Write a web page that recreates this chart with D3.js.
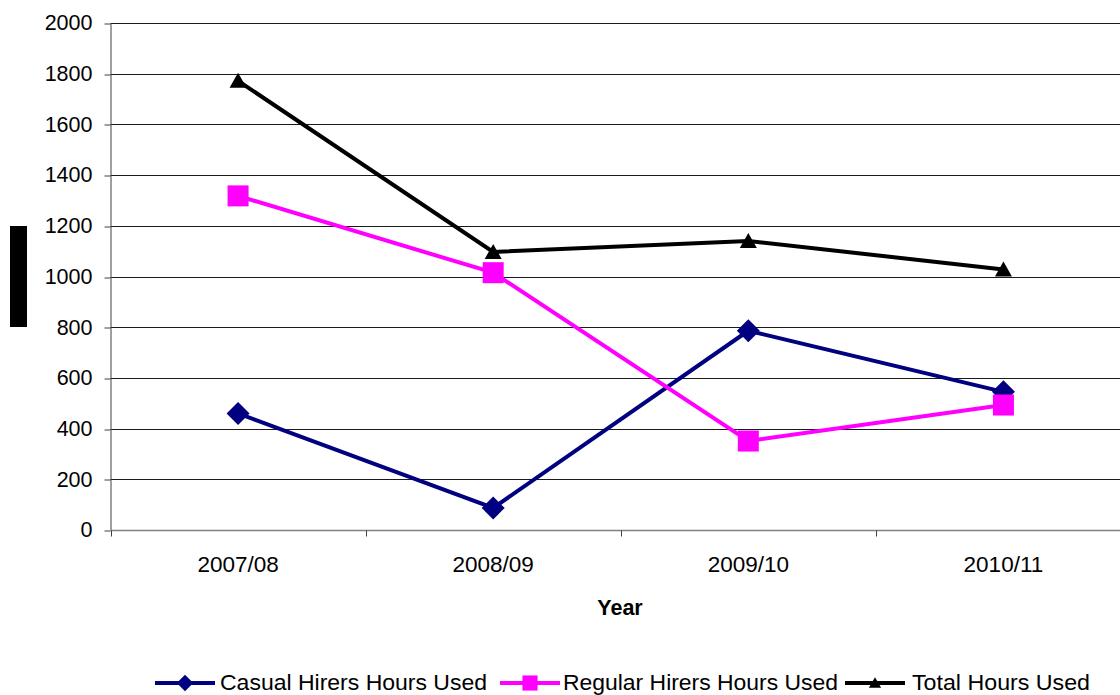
<!DOCTYPE html>
<html>
<head>
<meta charset="utf-8">
<script src="https://cdn.jsdelivr.net/npm/d3@7"></script>
<style>
  html, body { margin: 0; padding: 0; background: #fff; }
  svg { display: block; }
  svg text { font-family: "Liberation Sans", Arial, sans-serif; }
</style>
</head>
<body>
<svg id="chart" width="1120" height="695"></svg>
<script>
// Hours used per financial year
const years = ["2007/08", "2008/09", "2009/10", "2010/11"];
const casualHours = [460, 87, 786, 545];
const regularHours = [1318, 1015, 351, 493];
const totalHours = [1772, 1097, 1140, 1028];
const yTicks = [0, 200, 400, 600, 800, 1000, 1200, 1400, 1600, 1800, 2000];

const seriesNames = ["Casual Hirers Hours Used", "Regular Hirers Hours Used", "Total Hours Used"];
const seriesColors = ["#000080", "#ff00ff", "#000000"];
const seriesShapes = ["diamond", "square", "triangle"];
const seriesValues = [casualHours, regularHours, totalHours];

const FONT = "Liberation Sans, Arial, sans-serif";
const svg = d3.select("#chart");
const plot = { left: 110.5, right: 1131, top: 23, bottom: 530 };

const x = d3.scaleBand().domain(years).range([plot.left, plot.right]);
const y = d3.scaleLinear().domain([0, 2000]).range([plot.bottom, plot.top]);

// horizontal gridlines
svg.append("g")
  .selectAll("line")
  .data(yTicks.filter(d => d > 0))
  .join("line")
  .attr("x1", plot.left).attr("x2", plot.right)
  .attr("y1", d => Math.round(y(d)) + 0.5).attr("y2", d => Math.round(y(d)) + 0.5)
  .attr("stroke", "#1a1a1a").attr("stroke-width", 1);

// y axis
const yAxis = svg.append("g")
  .attr("transform", `translate(${plot.left},0)`)
  .call(d3.axisLeft(y).tickValues(yTicks).tickFormat(d3.format("d"))
    .tickSize(6).tickPadding(12).tickSizeOuter(0));
yAxis.attr("font-family", FONT);
yAxis.select(".domain").attr("stroke", "#404040");
yAxis.selectAll(".tick line").attr("stroke", "#404040")
  .attr("transform", d => `translate(0,${Math.round(y(d)) + 0.5 - y(d)})`);
yAxis.selectAll(".tick text").attr("font-size", 21.5).attr("fill", "#000");

// x axis with ticks at category boundaries
const xAxisG = svg.append("g").attr("transform", `translate(0,${plot.bottom + 0.5})`);
xAxisG.append("line")
  .attr("x1", plot.left).attr("x2", plot.right)
  .attr("stroke", "#808080").attr("stroke-width", 1.5);
xAxisG.selectAll("line.tk")
  .data(years)
  .join("line").attr("class", "tk")
  .attr("x1", d => Math.round(x(d)) + 0.5).attr("x2", d => Math.round(x(d)) + 0.5)
  .attr("y1", 0).attr("y2", 6)
  .attr("stroke", "#404040");
xAxisG.selectAll("text")
  .data(years)
  .join("text")
  .attr("x", d => x(d) + x.bandwidth() / 2)
  .attr("y", 41)
  .attr("text-anchor", "middle")
  .attr("font-family", FONT)
  .attr("font-size", 22.5)
  .text(d => d);

// x axis title
svg.append("text")
  .attr("x", 620).attr("y", 615)
  .attr("text-anchor", "middle")
  .attr("font-family", FONT)
  .attr("font-size", 21.5).attr("font-weight", "bold")
  .text("Year");

// y axis title block
svg.append("rect")
  .attr("x", 10).attr("y", 226).attr("width", 17).attr("height", 101)
  .attr("fill", "#000");

function marker(sel, shape, color, scale) {
  if (shape === "diamond") {
    const r = 11.5 * scale;
    sel.append("path").attr("d", `M0,${-r}L${r},0L0,${r}L${-r},0Z`).attr("fill", color);
  } else if (shape === "square") {
    const h = 10.5 * scale;
    sel.append("rect").attr("x", -h).attr("y", -h).attr("width", 2 * h).attr("height", 2 * h).attr("fill", color);
  } else {
    const w = 8.5 * scale, hh = 8 * scale;
    sel.append("path").attr("d", `M0,${-hh}L${w},${hh - 1}L${-w},${hh - 1}Z`).attr("fill", color);
  }
}

const line = d3.line()
  .x((d, i) => x(years[i]) + x.bandwidth() / 2)
  .y(d => y(d));

seriesValues.forEach((vals, s) => {
  const g = svg.append("g");
  g.append("path")
    .datum(vals)
    .attr("d", line)
    .attr("fill", "none")
    .attr("stroke", seriesColors[s])
    .attr("stroke-width", 4)
    .attr("stroke-linejoin", "miter");
  vals.forEach((v, i) => {
    const m = g.append("g")
      .attr("transform", `translate(${x(years[i]) + x.bandwidth() / 2},${y(v)})`);
    marker(m, seriesShapes[s], seriesColors[s], 1);
  });
});

// legend
const legendItems = [
  { x0: 155, tx: 220, w: 267 },
  { x0: 500, tx: 563, w: 275 },
  { x0: 845, tx: 912, w: 178 }
];
const legend = svg.append("g");
seriesNames.forEach((name, s) => {
  const it = legendItems[s];
  const g = legend.append("g");
  g.append("line")
    .attr("x1", it.x0).attr("x2", it.x0 + 60)
    .attr("y1", 683).attr("y2", 683)
    .attr("stroke", seriesColors[s]).attr("stroke-width", 4);
  const m = g.append("g").attr("transform", `translate(${it.x0 + 30},683)`);
  marker(m, seriesShapes[s], seriesColors[s], 0.72);
  g.append("text")
    .attr("x", it.tx).attr("y", 690)
    .attr("font-family", FONT)
    .attr("font-size", 21.5)
    .attr("textLength", it.w).attr("lengthAdjust", "spacingAndGlyphs")
    .text(name);
});
</script>
</body>
</html>
